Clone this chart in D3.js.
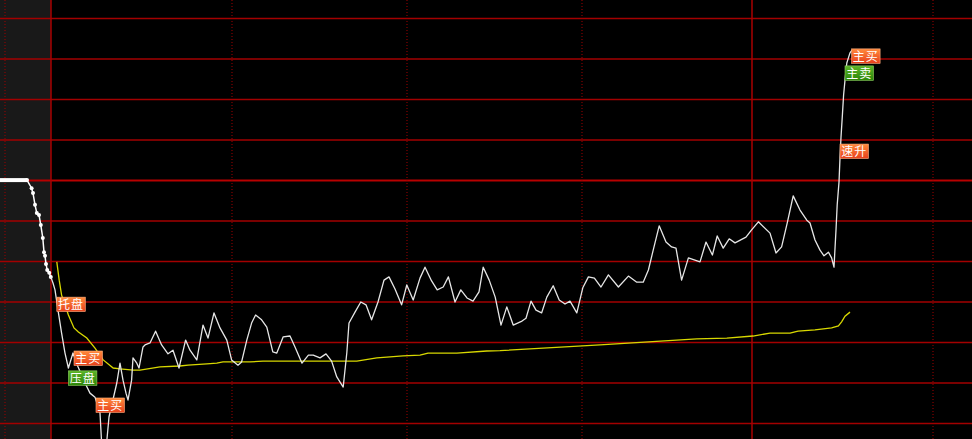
<!DOCTYPE html>
<html><head><meta charset="utf-8">
<script src="https://cdn.jsdelivr.net/npm/d3@7"></script>
<style>html,body{margin:0;padding:0;background:#000;overflow:hidden}</style>
</head><body>
<svg id="chart" width="972" height="439"></svg>
<script>
// ---- data (time in chart minutes, value in % change vs previous close) ----
const auctionPoints = [[0,0.01],[6.75,0.01],[7.9,-0.19],[8.25,-0.31],[8.75,-0.60],[9.2,-0.80],[9.75,-0.85],[10.2,-1.10],[10.7,-1.42],[11,-1.77],[11.25,-1.86],[11.5,-2.06],[11.8,-2.21],[12.3,-2.28],[12.7,-2.38]];
const pricePoints = [[12.7,-2.38],[13.25,-2.53],[13.75,-2.70],[14.5,-3.20],[15.4,-3.77],[16.25,-4.26],[17.1,-4.63],[18.25,-4.26],[19.5,-4.60],[21.25,-5.00],[22.5,-5.25],[23.75,-5.35],[25,-5.74],[25.5,-6.65],[26.5,-6.65],[27.25,-5.84],[29.2,-5.00],[30,-4.51],[30.75,-4.93],[31.5,-5.25],[32,-5.42],[32.9,-4.93],[33.25,-4.38],[34.2,-4.51],[34.75,-4.63],[35.75,-4.11],[36.25,-4.06],[37.5,-4.01],[38.9,-3.72],[40.4,-4.06],[42,-4.28],[43.25,-4.19],[44.75,-4.63],[46.4,-3.94],[47.5,-4.19],[49.2,-4.43],[50.75,-3.57],[52,-3.89],[53.5,-3.27],[55,-3.64],[56.7,-3.94],[57.9,-4.43],[59.5,-4.56],[60.4,-4.48],[61.7,-3.94],[62.9,-3.52],[63.9,-3.32],[65.4,-3.44],[66.7,-3.62],[68.2,-4.23],[69.2,-4.26],[70.8,-3.86],[72.5,-3.84],[73.75,-4.11],[75.5,-4.51],[77.1,-4.31],[78.3,-4.31],[80,-4.38],[81.5,-4.28],[82.9,-4.46],[84.2,-4.85],[85.8,-5.10],[86.7,-4.26],[87.25,-3.52],[88.75,-3.25],[90.2,-3.00],[91.5,-3.07],[92.9,-3.44],[94.5,-3.00],[96,-2.46],[97.25,-2.38],[98.75,-2.68],[100.4,-3.07],[101.7,-2.58],[103.3,-2.95],[105,-2.41],[106.25,-2.14],[107.9,-2.48],[109.3,-2.70],[110.8,-2.63],[112.1,-2.38],[113.75,-3.00],[115.2,-2.70],[116.75,-2.90],[118.25,-2.98],[119.75,-2.75],[120.8,-2.14],[122.3,-2.46],[123.8,-2.88],[125.25,-3.57],[126.7,-3.12],[128.3,-3.57],[130.5,-3.47],[131.5,-3.40],[132.75,-2.98],[134,-3.20],[135.4,-3.27],[136.7,-2.88],[138.3,-2.60],[139.8,-2.95],[141.25,-3.05],[142.5,-2.98],[144.2,-3.27],[145.7,-2.65],[147.1,-2.38],[148.6,-2.41],[150.25,-2.63],[152.1,-2.33],[154.6,-2.63],[157.1,-2.36],[159.2,-2.51],[160.8,-2.51],[162.1,-2.21],[163.3,-1.72],[164.8,-1.12],[166.5,-1.52],[167.9,-1.64],[169,-1.67],[170.4,-2.46],[172.1,-1.91],[175,-2.01],[176.5,-1.52],[178.1,-1.84],[179.3,-1.37],[180.8,-1.67],[182.3,-1.44],[183.75,-1.54],[186.5,-1.40],[187.9,-1.22],[189.6,-1.02],[192.5,-1.30],[194,-1.79],[195.4,-1.64],[196.8,-1.05],[198.3,-0.38],[200,-0.73],[201.7,-0.98],[202.5,-1.05],[203.75,-1.47],[205,-1.72],[206,-1.86],[207.1,-1.77],[207.9,-1.91],[208.5,-2.14],[209,-1.22],[209.3,-0.60],[209.75,-0.04],[210,0.56],[210.25,1.07],[210.6,1.62],[210.9,2.11],[211.3,2.53],[211.7,2.90],[212.5,3.15],[213,3.22]];
const avgPoints = [[14.2,-2.01],[14.8,-2.46],[15.4,-2.83],[16.25,-3.07],[17.1,-3.32],[18.5,-3.64],[19.6,-3.74],[21.7,-3.89],[23.75,-4.14],[25.8,-4.43],[28.3,-4.63],[30,-4.65],[33.3,-4.68],[35,-4.68],[40,-4.60],[45,-4.58],[47,-4.56],[51.7,-4.53],[54.2,-4.51],[55.75,-4.48],[62.5,-4.48],[65.75,-4.46],[89.2,-4.46],[94.2,-4.38],[96.7,-4.36],[100.75,-4.33],[105,-4.31],[107,-4.26],[114.2,-4.26],[121.7,-4.21],[125,-4.20],[150,-4.06],[174.2,-3.91],[181.7,-3.89],[188.25,-3.84],[192.5,-3.77],[197.5,-3.77],[199.5,-3.72],[203.75,-3.69],[207.9,-3.64],[209.6,-3.59],[210.4,-3.49],[211.25,-3.35],[212.5,-3.25]];
const gridValues = [-6,-5,-4,-3,-2,-1,0,1,2,3,4];
const dottedTimes = [1.25,58,101.75,145.5,233.25];
const solidTimes = [12.75,188];
const sessionStart = 12.75;
const labelTexts = ["托盘","主买","压盘","主买","速升","主买","主卖"];
const labelTimes = [14.2,18.5,17.1,24,210,212.9,211.25];
const labelValues = [-2.88,-4.21,-4.70,-5.37,0.90,3.25,2.83];
const labelKinds = ["buy","buy","sell","buy","buy","buy","sell"];

// ---- drawing ----
const W = 972, H = 439;
const svg = d3.select("#chart");
const x = d3.scaleLinear().domain([0, 243]).range([0, W]);
const y = d3.scaleLinear().domain([-6, 4]).range([423.5, 18.5]);

const defs = svg.append("defs");
defs.append("clipPath").attr("id","clip").append("rect").attr("width",W).attr("height",H);
const gOr = defs.append("linearGradient").attr("id","gOrange").attr("x1",0).attr("y1",0).attr("x2",0).attr("y2",1);
gOr.append("stop").attr("offset","0%").attr("stop-color","#ff8a3c");
gOr.append("stop").attr("offset","100%").attr("stop-color","#e8401c");
const gGr = defs.append("linearGradient").attr("id","gGreen").attr("x1",0).attr("y1",0).attr("x2",0).attr("y2",1);
gGr.append("stop").attr("offset","0%").attr("stop-color","#5cb428");
gGr.append("stop").attr("offset","100%").attr("stop-color","#2c8608");

svg.append("rect").attr("width",W).attr("height",H).attr("fill","#000");
svg.append("rect").attr("x",0).attr("y",0).attr("width",x(sessionStart)).attr("height",H).attr("fill","#191919");

const grid = svg.append("g");
grid.selectAll("line.h").data(gridValues).join("line")
  .attr("x1",0).attr("x2",W).attr("y1",d=>y(d)).attr("y2",d=>y(d))
  .attr("stroke",d=>d===0?"#b80000":"#a30000").attr("stroke-width",d=>d===0?2:1.4);
grid.selectAll("line.d").data(dottedTimes).join("line")
  .attr("x1",d=>x(d)).attr("x2",d=>x(d)).attr("y1",0).attr("y2",H)
  .attr("stroke","#a00000").attr("stroke-width",1).attr("stroke-dasharray","1,2");
grid.selectAll("line.s").data(solidTimes).join("line")
  .attr("x1",d=>x(d)).attr("x2",d=>x(d)).attr("y1",0).attr("y2",H)
  .attr("stroke","#a80000").attr("stroke-width",1.5);

const line = d3.line().x(d=>x(d[0])).y(d=>y(d[1]));
const plot = svg.append("g").attr("clip-path","url(#clip)");

// auction segment: thick flat part + dotted decline
plot.append("path").attr("d",line(auctionPoints.slice(0,2))).attr("fill","none")
  .attr("stroke","#ffffff").attr("stroke-width",4);
plot.append("path").attr("d",line(auctionPoints.slice(1))).attr("fill","none")
  .attr("stroke","#ffffff").attr("stroke-width",1.5);
plot.selectAll("circle.a").data(auctionPoints.slice(1)).join("circle")
  .attr("cx",d=>x(d[0])).attr("cy",d=>y(d[1])).attr("r",2).attr("fill","#ffffff");

plot.append("path").attr("d",line(avgPoints)).attr("fill","none")
  .attr("stroke","#d8d800").attr("stroke-width",1.3);
plot.append("path").attr("d",line(pricePoints)).attr("fill","none")
  .attr("stroke","#e6e6e6").attr("stroke-width",1.3).attr("stroke-linejoin","round");

const labels = labelTexts.map((t,i)=>({text:t, t:labelTimes[i], v:labelValues[i], kind:labelKinds[i]}));
const lg = plot.selectAll("g.lab").data(labels).join("g")
  .attr("transform",d=>`translate(${x(d.t)},${y(d.v)})`);
lg.append("rect").attr("width",28.5).attr("height",14.5)
  .attr("fill",d=>d.kind==="sell"?"url(#gGreen)":"url(#gOrange)")
  .attr("stroke",d=>d.kind==="sell"?"#8ed060":"#ffb080").attr("stroke-width",0.6);
lg.append("text").attr("x",14.25).attr("y",11.8).attr("text-anchor","middle")
  .attr("font-family","'Noto Sans CJK SC', sans-serif").attr("font-size",12)
  .attr("letter-spacing",1).attr("fill","#ffffff").text(d=>d.text);
</script>
</body></html>
